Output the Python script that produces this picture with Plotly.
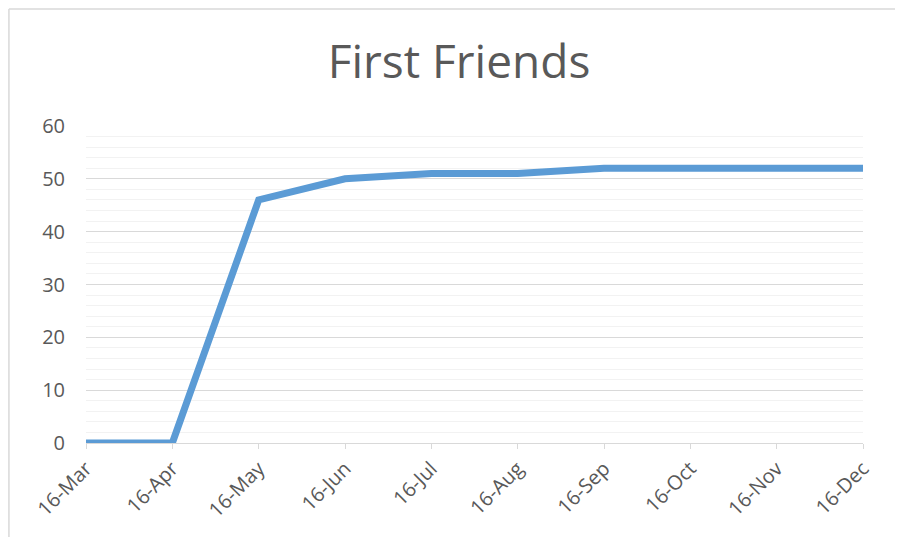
import plotly.graph_objects as go

MONTHS = ["16-Mar", "16-Apr", "16-May", "16-Jun", "16-Jul",
          "16-Aug", "16-Sep", "16-Oct", "16-Nov", "16-Dec"]
FRIENDS = [0, 0, 46, 50, 51, 51, 52, 52, 52, 52]

TEXT = "#595959"
GRID = "#D9D9D9"
MINOR = "#F2F2F2"
BLUE = "#5B9BD5"
FONT = "Open Sans"

# page body has an 8px margin, so the figure is sized to fit inside it
W, H = 887, 529

fig = go.Figure(
    go.Scatter(
        x=MONTHS,
        y=FRIENDS,
        mode="lines",
        line=dict(color=BLUE, width=7),
        hoverinfo="x+y",
    )
)

fig.update_layout(
    width=W,
    height=H,
    title=dict(
        text="First Friends",
        x=451 / W,
        xanchor="center",
        y=1 - 54 / H,
        yanchor="middle",
        font=dict(family=FONT, size=46, color=TEXT),
    ),
    paper_bgcolor="white",
    plot_bgcolor="white",
    font=dict(family=FONT, color=TEXT, size=20),
    margin=dict(l=78, r=32, t=118, b=94, pad=0),
    showlegend=False,
)
fig.update_xaxes(
    type="category",
    range=[0, len(MONTHS) - 1],
    tickangle=-45,
    showline=True,
    linecolor=GRID,
    linewidth=1,
    ticks="outside",
    ticklen=5,
    tickcolor=GRID,
    showgrid=False,
    zeroline=False,
    tickfont=dict(size=20, color=TEXT),
)
fig.update_yaxes(
    range=[0, 60],
    dtick=10,
    gridcolor=GRID,
    gridwidth=1,
    zeroline=False,
    showline=False,
    ticks="",
    ticklabelstandoff=20,
    tickfont=dict(size=20, color=TEXT),
    minor=dict(dtick=2, showgrid=True, gridcolor=MINOR, gridwidth=1),
)

# chart-area border: only the left and top edges are in view
BORDER_L, BORDER_T = -0.0992, 1.369
for x0, y0, x1, y1 in [(BORDER_L, -0.5, BORDER_L, BORDER_T),
                       (BORDER_L, BORDER_T, 1.3, BORDER_T)]:
    fig.add_shape(
        type="line",
        xref="paper",
        yref="paper",
        x0=x0, y0=y0, x1=x1, y1=y1,
        line=dict(color=GRID, width=1.5),
        layer="below",
    )

fig.write_html("out.html")
